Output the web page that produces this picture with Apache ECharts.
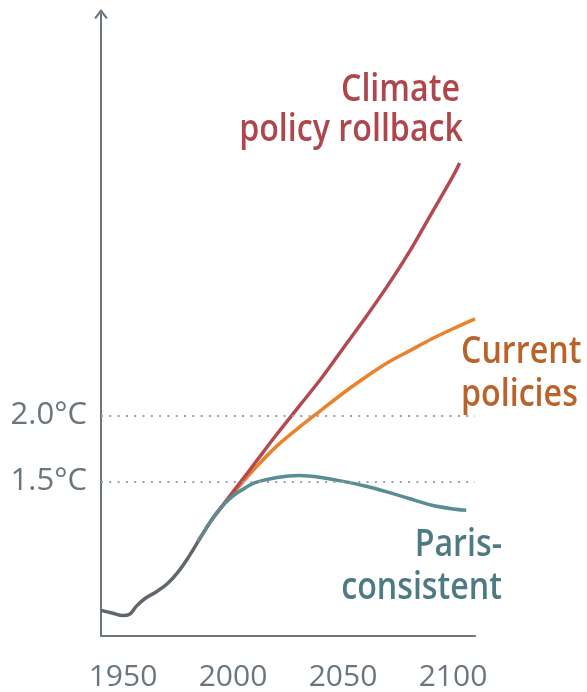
<!DOCTYPE html>
<html>
<head>
<meta charset="utf-8">
<script src="https://cdn.jsdelivr.net/npm/echarts@6/dist/echarts.min.js"></script>
<style>
  html, body { margin: 0; padding: 0; background: #fff; }
  #chart { width: 587px; height: 692px; }
</style>
</head>
<body>
<div id="chart"></div>
<script>
// warming above pre-industrial, °C   [year, value]
const historical = [
  [1940, 0.52], [1945, 0.50], [1950, 0.48], [1953, 0.49], [1956, 0.55],
  [1960, 0.61], [1965, 0.66], [1970, 0.72], [1975, 0.81], [1980, 0.93], [1984, 1.04]
]
const rollback = [
  [1984, 1.04], [1990, 1.20], [1995, 1.31], [2000, 1.42], [2010, 1.64], [2020, 1.86],
  [2030, 2.07], [2040, 2.28], [2050, 2.51], [2060, 2.74], [2070, 2.98], [2080, 3.24],
  [2090, 3.53], [2100, 3.82], [2103, 3.92]
]
const current = [
  [1984, 1.04], [1990, 1.20], [1995, 1.31], [2000, 1.41], [2010, 1.60], [2020, 1.77],
  [2030, 1.91], [2040, 2.04], [2050, 2.17], [2060, 2.29], [2070, 2.40], [2080, 2.49],
  [2090, 2.58], [2100, 2.66], [2110, 2.735]
]
const paris = [
  [1984, 1.04], [1990, 1.20], [1995, 1.31], [2000, 1.39], [2005, 1.445], [2010, 1.49],
  [2020, 1.53], [2030, 1.545], [2040, 1.53], [2050, 1.50], [2060, 1.465], [2070, 1.42],
  [2080, 1.37], [2090, 1.32], [2100, 1.29], [2106, 1.28]
]
const refLevels = [1.5, 2.0]
const yearLabels = [1950, 2000, 2050, 2100]

const AXIS = '#6b757d'
const FONT = '"Open Sans", "Noto Sans", sans-serif'

const chart = echarts.init(document.getElementById('chart'))

function label(text, x, y, color, align) {
  return {
    type: 'text', x: x, y: y, scaleX: 0.87, silent: true,
    style: {
      text: text, fill: color, align: align, verticalAlign: 'middle',
      font: '600 37px ' + FONT
    }
  }
}

chart.setOption({
  animation: false,
  grid: { left: 101, right: 112, top: 14, bottom: 54 },
  xAxis: {
    type: 'value', min: 1940, max: 2110, interval: 10,
    axisLine: { lineStyle: { color: AXIS, width: 2 } },
    axisTick: { show: false },
    splitLine: { show: false },
    axisLabel: {
      margin: 26, color: AXIS, fontSize: 30, fontFamily: FONT,
      formatter: (v) => (yearLabels.includes(v) ? String(v) : '')
    }
  },
  yAxis: {
    type: 'value', min: 0.325, max: 5.052,
    axisLine: {
      show: true, lineStyle: { color: AXIS, width: 2 },
      symbol: ['none', 'path://M0,9 L7,0 L14,9 L12.2,10.4 L7,3.6 L1.8,10.4 Z'],
      symbolSize: [14, 10], symbolOffset: [0, 0]
    },
    axisTick: { show: false },
    axisLabel: { show: false },
    splitLine: { show: false }
  },
  graphic: [
    label('Climate', 460, 90, '#ae464c', 'right'),
    label('policy rollback', 463, 130, '#ae464c', 'right'),
    label('Current', 461, 352, '#b9632a', 'left'),
    label('policies', 461, 395, '#b9632a', 'left'),
    label('Paris-', 502, 545, '#4e7b83', 'right'),
    label('consistent', 502, 588, '#4e7b83', 'right')
  ],
  series: [
    {
      type: 'line', data: current, smooth: 0.3, symbol: 'none',
      lineStyle: { color: '#ea822c', width: 3.5 }
    },
    {
      type: 'line', data: rollback, smooth: 0.3, symbol: 'none',
      lineStyle: { color: '#b24a50', width: 3.5 }
    },
    {
      type: 'line', data: paris, smooth: 0.3, symbol: 'none',
      lineStyle: { color: '#5a8c94', width: 3.5 }
    },
    {
      type: 'line', data: historical, smooth: 0.4, symbol: 'none',
      lineStyle: { color: '#5f666c', width: 3.5 },
      markLine: {
        silent: true, symbol: 'none',
        lineStyle: { color: '#9aa0a5', width: 2, type: [2, 6.3] },
        label: {
          position: 'start', distance: 14, color: AXIS, fontSize: 31,
          fontFamily: FONT, padding: [0, 0, 10, 0],
          formatter: (p) => p.value.toFixed(1) + '°C'
        },
        data: refLevels.map((v) => ({ yAxis: v }))
      }
    }
  ]
})
</script>
</body>
</html>
